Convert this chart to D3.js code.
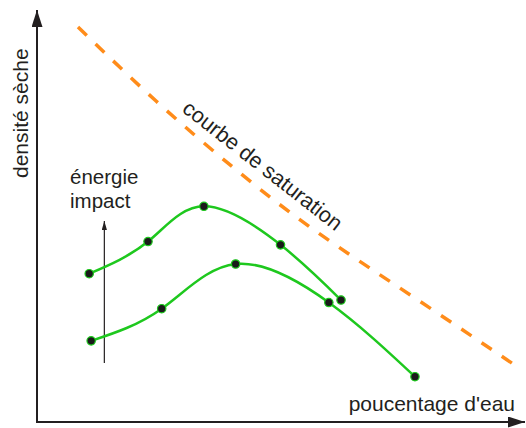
<!DOCTYPE html>
<html><head><meta charset="utf-8">
<script src="https://cdn.jsdelivr.net/npm/d3@7"></script>
<style>
html,body{margin:0;padding:0;background:#fff;}
svg{display:block;font-family:"Liberation Sans",Arial,Helvetica,sans-serif;}
</style></head>
<body>
<svg id="c" width="526" height="428"></svg>
<script>
// Data (x: pourcentage d'eau, y: densité sèche, arbitrary 0-100 units)
const seriesHighX = [10.7, 22.75, 34.2, 49.9, 62.3];
const seriesHighY = [36.0, 43.8, 52.35, 43.0, 29.6];
const seriesLowX  = [11.1, 25.55, 40.7, 59.8, 77.45];
const seriesLowY  = [19.7, 27.5, 38.35, 29.0, 11.0];
const saturationX = [8.4, 24.4, 40.6, 56.8, 76.8, 97.3];
const saturationY = [95.9, 77.9, 61.4, 46.6, 30.6, 14.3];
const energyArrowX = [13.8, 13.8];
const energyArrowY = [14.3, 48.8];
const labels = {x: "poucentage d'eau", y: "densité sèche", sat: "courbe de saturation", e1: "énergie", e2: "impact"};

const svg = d3.select("#c");
const x = d3.scaleLinear().domain([0, 100]).range([37, 525]);
const y = d3.scaleLinear().domain([0, 100]).range([422, 10]);

const axisColor = "#231f20";
const green = "#1ec81e";
const orange = "#ff8c1a";

const defs = svg.append("defs");
function marker(id, len, hw) {
  defs.append("marker").attr("id", id)
    .attr("viewBox", `0 ${-hw} ${len} ${2*hw}`)
    .attr("refX", len).attr("refY", 0)
    .attr("markerUnits", "userSpaceOnUse")
    .attr("markerWidth", len).attr("markerHeight", 2*hw)
    .attr("orient", "auto")
    .append("path").attr("d", `M0,${-hw}L${len},0L0,${hw}Z`).attr("fill", axisColor);
}
marker("ax", 17, 5.5);
marker("sm", 9, 2.6);

// axes
svg.append("line").attr("x1", x(0)).attr("y1", y(0)+1).attr("x2", x(0)).attr("y2", y(100))
  .attr("stroke", axisColor).attr("stroke-width", 2).attr("marker-end", "url(#ax)");
svg.append("line").attr("x1", x(0)-1).attr("y1", y(0)).attr("x2", x(100)).attr("y2", y(0))
  .attr("stroke", axisColor).attr("stroke-width", 2).attr("marker-end", "url(#ax)");

// axis labels
svg.append("text").attr("transform", `translate(28,178) rotate(-90)`)
  .attr("font-size", 21).attr("fill", axisColor).text(labels.y);
svg.append("text").attr("x", 515).attr("y", 411).attr("text-anchor", "end")
  .attr("font-size", 21).attr("fill", axisColor).text(labels.x);

// saturation curve
const satLine = d3.line().x(d => x(d[0])).y(d => y(d[1])).curve(d3.curveNatural);
const satPath = svg.append("path")
  .attr("d", satLine(saturationX.map((v, i) => [v, saturationY[i]])))
  .attr("fill", "none")
  .attr("stroke", orange).attr("stroke-width", 3.5);
const L = satPath.node().getTotalLength();
const n = Math.round((L + 12.5) / 25);
const dash = L / (2 * n - 1);
satPath.attr("stroke-dasharray", `${dash},${dash}`);
svg.append("text").attr("transform", `translate(181,111) rotate(38)`)
  .attr("font-size", 21.5).attr("fill", axisColor).text(labels.sat);

// energy arrow
svg.append("line")
  .attr("x1", x(energyArrowX[0])).attr("y1", y(energyArrowY[0]))
  .attr("x2", x(energyArrowX[1])).attr("y2", y(energyArrowY[1]))
  .attr("stroke", axisColor).attr("stroke-width", 1.2).attr("marker-end", "url(#sm)");
svg.append("text").attr("x", 70).attr("y", 184).attr("font-size", 20.5).attr("fill", axisColor).text(labels.e1);
svg.append("text").attr("x", 70).attr("y", 208).attr("font-size", 20.5).attr("fill", axisColor).text(labels.e2);

// compaction curves
const line = d3.line().x(d => x(d[0])).y(d => y(d[1])).curve(d3.curveNatural);
[[seriesHighX, seriesHighY], [seriesLowX, seriesLowY]].forEach(([xs, ys]) => {
  const pts = xs.map((v, i) => [v, ys[i]]);
  svg.append("path").attr("d", line(pts)).attr("fill", "none")
    .attr("stroke", green).attr("stroke-width", 2.5);
  svg.selectAll(null).data(pts).enter().append("circle")
    .attr("cx", d => x(d[0])).attr("cy", d => y(d[1])).attr("r", 4.2)
    .attr("fill", "#1a1a1a").attr("stroke", green).attr("stroke-width", 1.2);
});
</script>
</body></html>
